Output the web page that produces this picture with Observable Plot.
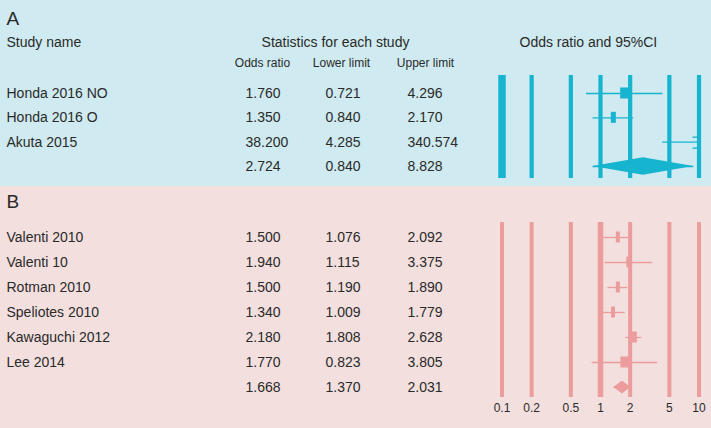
<!DOCTYPE html>
<html><head><meta charset="utf-8">
<script src="https://cdn.jsdelivr.net/npm/d3@7"></script>
<script src="https://cdn.jsdelivr.net/npm/@observablehq/plot@0.6"></script>
<style>
html,body{margin:0;padding:0;}
body{width:711px;height:428px;overflow:hidden;font-family:"Liberation Sans",Arial,sans-serif;}
#a{background:#cfeaf0;height:186px}
#b{background:#f3dfdd;height:242px}
svg{display:block}
</style></head><body><div id="a"></div><div id="b"></div>
<script>
// ---- Data ----
const studiesA = ["Honda 2016 NO", "Honda 2016 O", "Akuta 2015"];
const oddsA = [1.760, 1.350, 38.200];
const lowerA = [0.721, 0.840, 4.285];
const upperA = [4.296, 2.170, 340.574];
const weightA = [9, 5, 4];
const summaryA = [2.724, 0.840, 8.828]; // odds ratio, lower, upper

const studiesB = ["Valenti 2010", "Valenti 10", "Rotman 2010", "Speliotes 2010", "Kawaguchi 2012", "Lee 2014"];
const oddsB = [1.500, 1.940, 1.500, 1.340, 2.180, 1.770];
const lowerB = [1.076, 1.115, 1.190, 1.009, 1.808, 0.823];
const upperB = [2.092, 3.375, 1.890, 1.779, 2.628, 3.805];
const weightB = [4, 5, 4, 4, 6, 9];
const summaryB = [1.668, 1.370, 2.031];

const axisTicks = [0.1, 0.2, 0.5, 1, 2, 5, 10];
const headerLabels = ["Study name", "Statistics for each study", "Odds ratio and 95%CI"];
const columnLabels = ["Odds ratio", "Lower limit", "Upper limit"];

// ---- Drawing ----
const fmt = d3.format(".3f");
const TXT = "#2a2a2a";
const FONT = "'Liberation Sans', Arial, Helvetica, sans-serif";
const XMIN = 0.1, XMAX = 10;

function buildRows(studies, odds, lower, upper, weight, summary) {
  const rows = studies.map((name, i) => ({name, or: odds[i], lower: lower[i], upper: upper[i], weight: weight[i], i, summary: false}));
  rows.push({name: "", or: summary[0], lower: summary[1], upper: summary[2], weight: 0, i: studies.length, summary: true});
  return rows;
}

function panel(cfg) {
  const {rows, letter, height, yRange, mTop, mBottom, color, barWidth, half, headers, tickLabels} = cfg;
  const n = rows.length - 1;
  const sum = rows[n];
  const diamond = [
    {x: Math.max(sum.lower, XMIN), y1: n, y2: n},
    {x: sum.or, y1: n - half, y2: n + half},
    {x: Math.min(sum.upper, XMAX), y1: n, y2: n}
  ];
  const studies = rows.filter(d => !d.summary);
  const clipped = rows.filter(d => d.upper > XMAX);
  const marks = [
    Plot.ruleX(axisTicks, {x: d => d, stroke: color, strokeWidth: barWidth}),
    Plot.ruleY(rows, {y: "i", x1: d => Math.max(d.lower, XMIN), x2: d => Math.min(d.upper, XMAX), stroke: color, strokeWidth: 1.3}),
    Plot.ruleX(studies.filter(d => d.or <= XMAX), {x: "or", y1: "i", y2: "i", insetTop: -5.5, insetBottom: -5.5, stroke: color, strokeWidth: d => d.weight}),
    Plot.areaY(diamond, {x: "x", y1: "y1", y2: "y2", fill: color, curve: "linear"}),
    Plot.ruleY(clipped, {y: "i", x1: () => XMAX, x2: () => XMAX, insetLeft: -6, dy: -5, stroke: color, strokeWidth: 1.3}),
    Plot.ruleY(clipped, {y: "i", x1: () => XMAX, x2: () => XMAX, insetLeft: -6, dy: 6, stroke: color, strokeWidth: 1.3}),
    Plot.text(rows, {y: "i", text: "name", frameAnchor: "left", dx: 6, textAnchor: "start", fontSize: 14, fill: TXT}),
    Plot.text(rows, {y: "i", text: d => fmt(d.or), frameAnchor: "left", dx: 245, textAnchor: "start", fontSize: 14, fill: TXT}),
    Plot.text(rows, {y: "i", text: d => fmt(d.lower), frameAnchor: "left", dx: 325, textAnchor: "start", fontSize: 14, fill: TXT}),
    Plot.text(rows, {y: "i", text: d => fmt(d.upper), frameAnchor: "left", dx: 407, textAnchor: "start", fontSize: 14, fill: TXT}),
    Plot.text([letter], {frameAnchor: "top-left", dx: 6, dy: cfg.letterY - mTop, textAnchor: "start", lineAnchor: "middle", fontSize: 19, fill: TXT})
  ];
  if (headers) {
    marks.push(
      Plot.text([headerLabels[0]], {frameAnchor: "top-left", dx: 6, dy: 42 - mTop, textAnchor: "start", lineAnchor: "middle", fontSize: 14, fill: TXT}),
      Plot.text([headerLabels[1]], {frameAnchor: "top-left", dx: 335, dy: 42 - mTop, textAnchor: "middle", lineAnchor: "middle", fontSize: 14, fill: TXT}),
      Plot.text([headerLabels[2]], {frameAnchor: "top-left", dx: 519, dy: 42 - mTop, textAnchor: "start", lineAnchor: "middle", fontSize: 14, fill: TXT}),
      Plot.text([columnLabels[0]], {frameAnchor: "top-left", dx: 262, dy: 63 - mTop, textAnchor: "middle", lineAnchor: "middle", fontSize: 12, fill: TXT}),
      Plot.text([columnLabels[1]], {frameAnchor: "top-left", dx: 341, dy: 63 - mTop, textAnchor: "middle", lineAnchor: "middle", fontSize: 12, fill: TXT}),
      Plot.text([columnLabels[2]], {frameAnchor: "top-left", dx: 425, dy: 63 - mTop, textAnchor: "middle", lineAnchor: "middle", fontSize: 12, fill: TXT})
    );
  }
  if (tickLabels) {
    marks.push(Plot.text(axisTicks, {x: d => d, text: d => String(d), frameAnchor: "bottom", dy: 11, lineAnchor: "middle", fontSize: 12, fill: TXT}));
  }
  return Plot.plot({
    width: 711, height,
    marginLeft: 0, marginRight: 0, marginTop: mTop, marginBottom: mBottom,
    style: {background: "transparent", fontFamily: FONT},
    x: {type: "log", domain: [XMIN, XMAX], range: [501.5, 698.5], axis: null},
    y: {type: "linear", domain: [0, n], range: yRange, axis: null},
    marks
  });
}

const rowsA = buildRows(studiesA, oddsA, lowerA, upperA, weightA, summaryA);
const rowsB = buildRows(studiesB, oddsB, lowerB, upperB, weightB, summaryB);

document.getElementById("a").append(panel({
  rows: rowsA, letter: "A", letterY: 18, height: 186, yRange: [93, 166], mTop: 75, mBottom: 8,
  color: "#16b4cf", barWidth: d => d === 0.1 ? 7.5 : 4.2, half: 0.36, headers: true, tickLabels: false
}));
document.getElementById("b").append(panel({
  rows: rowsB, letter: "B", letterY: 15, height: 242, yRange: [51, 201], mTop: 36, mBottom: 31,
  color: "#ec9c9c", barWidth: d => d === 1 ? 5.5 : 4, half: 0.26, headers: false, tickLabels: true
}));
</script>
</body></html>
